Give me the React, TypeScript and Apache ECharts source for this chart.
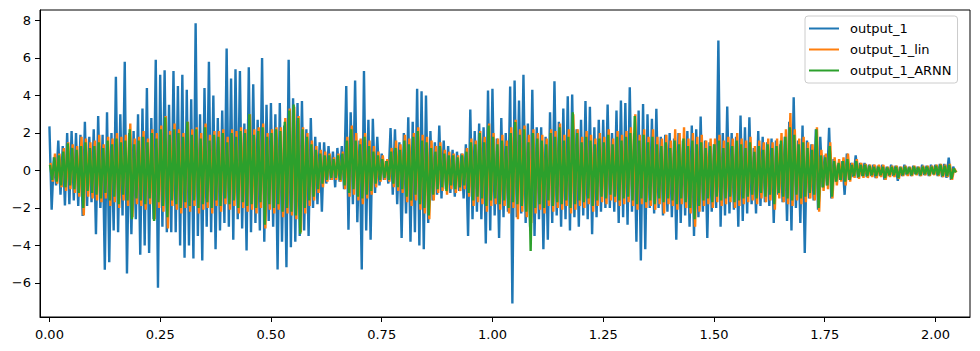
import React, { useEffect, useRef } from "react";
import * as echarts from "echarts";

// sample spacing of the signal (x units); each bin holds one upper and one lower excursion
const STEP = 0.01;
const HALF = 0.005;

const seriesNames = ["output_1", "output_1_lin", "output_1_ARNN"];
const colors = ["#1f77b4", "#ff7f0e", "#2ca02c"];
const phase = [0, 0.0025, 0.00125];

const xTicks = [0, 0.25, 0.5, 0.75, 1.0, 1.25, 1.5, 1.75, 2.0];
const yTicks = [-6, -4, -2, 0, 2, 4, 6, 8];

// output_1 (blue): upper / lower excursions per bin
const blueUp = [
  2.35, 0.7, 1.6, 1.3, 2.0, 2.1, 2.0, 1.9, 2.6, 1.8,
  2.2, 2.9, 1.9, 3.1, 2.0, 5.0, 3.0, 5.8, 2.0, 2.1,
  3.0, 3.3, 4.4, 2.8, 5.9, 5.1, 5.35, 3.5, 5.3, 4.5,
  5.1, 4.3, 3.8, 7.85, 3.0, 4.4, 5.8, 4.0, 2.8, 3.2,
  6.5, 4.9, 5.4, 5.3, 2.5, 5.5, 4.6, 2.7, 6.0, 3.5,
  3.6, 3.0, 3.6, 2.4, 5.9, 3.85, 3.6, 3.7, 2.2, 2.8,
  1.8, 1.5, 1.5, 1.3, 1.0, 1.2, 1.3, 4.5, 3.1, 4.8,
  1.6, 5.3, 2.7, 2.75, 1.8, 0.9, 0.5, 2.26, 2.2, 1.5,
  2.0, 2.84, 2.6, 4.36, 4.23, 4.0, 2.1, 1.5, 2.4, 1.6,
  1.3, 1.1, 1.0, 0.9, 1.4, 3.25, 2.1, 2.5, 2.3, 4.27,
  4.36, 1.7, 2.8, 2.0, 4.48, 4.8, 3.73, 5.1, 2.5, 4.3,
  2.3, 2.3, 1.8, 3.1, 4.76, 2.6, 3.3, 3.96, 4.05, 2.2,
  2.7, 3.7, 3.4, 2.3, 2.7, 2.7, 3.52, 2.0, 3.2, 3.73,
  3.6, 4.44, 2.0, 3.2, 3.55, 3.0, 2.76, 3.29, 1.8, 1.9,
  2.0, 1.7, 2.0, 1.6, 2.1, 2.4, 2.2, 2.88, 1.6, 1.5,
  1.4, 6.93, 2.0, 3.41, 2.0, 1.8, 2.93, 2.3, 2.84, 1.2,
  2.1, 1.8, 1.5, 1.7, 1.6, 1.4, 1.8, 2.6, 3.91, 1.6,
  2.4, 1.6, 1.4, 2.2, 1.8, 0.8, 2.28, 0.6, 0.3, 0.5,
  0.9, 0.4, 0.8, 0.4, 0.4, 0.3, 0.3, 0.25, 0.3, 0.2,
  0.3, 0.25, 0.2, 0.3, 0.2, 0.25, 0.2, 0.3, 0.25, 0.3,
  0.3, 0.35, 0.35, 0.68, 0.2,
];
const blueDown = [
  -2.1, -0.8, -1.3, -1.87, -1.8, -1.6, -1.9, -2.43, -1.9, -1.7,
  -3.4, -2.0, -5.3, -4.9, -3.2, -3.3, -2.4, -5.5, -3.4, -2.6,
  -4.5, -4.0, -4.4, -2.6, -6.26, -3.0, -3.3, -3.3, -3.3, -4.0,
  -4.66, -4.0, -4.7, -3.5, -4.8, -3.0, -3.3, -4.2, -3.2, -2.8,
  -3.0, -3.7, -2.6, -3.1, -4.27, -3.3, -2.8, -3.2, -3.8, -2.7,
  -3.0, -5.28, -3.8, -5.16, -4.1, -3.8, -3.5, -3.2, -3.5, -2.0,
  -1.8, -2.2, -0.7, -0.5, -0.9, -0.6, -1.0, -3.16, -1.8, -2.76,
  -5.28, -3.2, -3.7, -1.2, -0.8, -0.5, -0.7, -1.3, -1.8, -3.6,
  -2.3, -3.8, -3.3, -4.0, -4.2, -2.8, -1.6, -1.3, -1.5, -1.0,
  -1.2, -1.4, -1.1, -1.5, -3.5, -2.6, -2.2, -2.6, -3.9, -3.2,
  -2.4, -3.6, -2.5, -2.2, -7.1, -2.5, -2.3, -2.8, -3.0, -3.5,
  -2.6, -4.2, -3.7, -2.8, -2.4, -3.0, -2.6, -3.2, -2.5, -3.0,
  -2.4, -2.6, -3.4, -2.5, -2.2, -2.0, -2.0, -2.2, -2.8, -2.5,
  -2.9, -2.2, -3.8, -4.8, -4.2, -2.0, -2.3, -2.0, -2.4, -2.2,
  -2.5, -3.7, -2.8, -2.4, -3.0, -3.5, -2.5, -2.2, -3.6, -2.2,
  -2.0, -3.0, -2.4, -2.3, -2.1, -3.0, -2.7, -2.3, -1.8, -2.3,
  -1.9, -1.7, -1.9, -2.8, -1.3, -1.7, -2.7, -3.2, -2.0, -2.8,
  -4.4, -1.5, -1.6, -2.1, -0.9, -0.8, -1.5, -0.6, -0.5, -1.3,
  -0.5, -0.35, -0.4, -0.3, -0.35, -0.3, -0.4, -0.3, -0.5, -0.3,
  -0.3, -0.55, -0.3, -0.25, -0.3, -0.2, -0.3, -0.25, -0.3, -0.2,
  -0.3, -0.35, -0.4, -0.5, -0.1,
];

// output_1_lin (orange)
const orangeUp = [
  0.4, 0.9, 0.9, 1.2, 1.5, 1.4, 1.3, 1.8, 1.7, 1.5,
  1.6, 1.9, 1.4, 1.8, 1.7, 2.0, 1.8, 1.9, 2.5, 1.7,
  1.8, 2.1, 1.7, 2.2, 2.0, 2.4, 2.9, 2.1, 2.5, 2.2,
  2.0, 2.6, 2.2, 2.3, 2.0, 2.5, 1.9, 2.1, 2.1, 2.2,
  1.8, 2.2, 2.1, 2.3, 2.2, 3.0, 2.2, 2.3, 2.5, 2.0,
  2.2, 2.3, 2.3, 2.8, 3.3, 3.4, 2.9, 2.3, 2.0, 1.6,
  1.3, 1.1, 1.0, 0.9, 0.7, 0.9, 1.0, 1.8, 2.4, 2.0,
  1.7, 2.0, 1.6, 1.3, 1.0, 0.8, 0.6, 1.2, 1.6, 1.4,
  1.9, 1.7, 2.0, 2.3, 1.9, 1.8, 1.6, 1.3, 1.5, 1.1,
  1.0, 0.9, 0.8, 0.9, 1.2, 1.7, 1.6, 2.1, 1.8, 2.5,
  2.0, 1.7, 1.9, 1.6, 2.3, 2.7, 2.2, 2.4, 1.9, 2.2,
  2.0, 1.9, 1.7, 2.2, 2.1, 2.5, 1.9, 2.2, 3.0, 2.2,
  1.8, 2.1, 1.9, 1.7, 2.0, 1.8, 2.2, 1.7, 2.1, 1.9,
  2.1, 2.3, 3.0, 1.9, 2.2, 1.8, 2.2, 1.8, 1.7, 1.9,
  1.6, 2.2, 2.0, 2.3, 1.7, 2.0, 1.8, 1.9, 1.6, 1.7,
  1.7, 1.9, 1.6, 1.8, 1.7, 2.0, 1.7, 1.6, 1.8, 1.3,
  1.6, 1.5, 1.7, 1.5, 1.7, 2.0, 2.2, 3.06, 2.2, 1.7,
  1.8, 1.5, 1.4, 2.3, 1.1, 0.9, 1.5, 0.7, 0.6, 0.7,
  0.9, 0.4, 0.6, 0.4, 0.35, 0.3, 0.3, 0.3, 0.3, 0.2,
  0.25, 0.25, 0.2, 0.25, 0.2, 0.25, 0.2, 0.25, 0.25, 0.25,
  0.3, 0.35, 0.3, 0.35, 0.1,
];
const orangeDown = [
  -0.6, -0.7, -0.9, -1.1, -1.0, -1.2, -1.4, -2.4, -1.4, -1.5,
  -1.6, -1.7, -1.5, -1.9, -1.7, -2.0, -1.6, -1.9, -2.5, -1.8,
  -1.9, -2.1, -1.8, -2.6, -2.0, -2.2, -3.1, -1.9, -2.1, -2.3,
  -2.0, -2.2, -1.9, -2.3, -2.1, -2.0, -2.3, -1.9, -2.2, -1.8,
  -2.1, -1.9, -2.3, -2.0, -2.2, -2.1, -2.3, -2.0, -3.1, -2.1,
  -2.3, -2.1, -2.5, -2.3, -2.4, -2.6, -3.3, -2.3, -1.9, -1.6,
  -1.2, -0.9, -0.6, -0.5, -0.5, -0.6, -1.0, -1.4, -1.3, -1.6,
  -1.8, -1.5, -1.3, -0.9, -0.6, -0.5, -0.6, -0.9, -1.1, -1.2,
  -1.7, -1.9, -1.6, -2.1, -2.3, -2.6, -1.6, -1.2, -1.1, -1.3,
  -1.0, -1.2, -1.1, -1.0, -1.4, -1.9, -1.7, -1.8, -2.2, -1.9,
  -1.8, -2.1, -1.9, -2.3, -2.0, -2.6, -2.2, -2.5, -2.8, -2.3,
  -2.1, -2.3, -1.9, -2.2, -2.0, -2.1, -1.9, -2.3, -2.1, -1.9,
  -2.0, -1.8, -2.2, -1.9, -1.7, -1.8, -1.6, -1.7, -1.9, -1.8,
  -1.7, -1.9, -2.1, -1.8, -2.0, -1.9, -2.1, -1.8, -2.3, -1.8,
  -1.9, -2.1, -1.8, -2.0, -2.3, -3.0, -2.2, -1.9, -1.8, -2.0,
  -1.7, -1.9, -1.8, -1.7, -2.0, -1.9, -1.8, -1.7, -1.6, -1.8,
  -1.5, -1.7, -1.6, -2.1, -1.5, -1.7, -1.8, -1.9, -1.6, -1.8,
  -1.7, -1.5, -1.6, -2.2, -1.1, -1.0, -1.5, -0.8, -0.6, -0.8,
  -0.6, -0.4, -0.45, -0.4, -0.4, -0.35, -0.4, -0.35, -0.5, -0.35,
  -0.35, -0.45, -0.3, -0.3, -0.3, -0.25, -0.3, -0.25, -0.3, -0.25,
  -0.3, -0.35, -0.35, -0.5, -0.1,
];

// output_1_ARNN (green)
const greenUp = [
  0.3, 0.7, 0.8, 1.0, 1.45, 1.2, 1.1, 1.3, 1.5, 1.2,
  1.3, 1.5, 1.2, 1.6, 1.4, 1.7, 1.5, 1.6, 2.2, 1.4,
  1.6, 1.8, 1.5, 2.0, 1.7, 2.2, 2.84, 1.9, 2.2, 2.0,
  1.8, 2.6, 1.9, 2.2, 1.7, 2.3, 1.6, 1.9, 1.8, 2.0,
  1.5, 2.0, 1.8, 2.1, 2.0, 3.0, 1.9, 2.1, 2.3, 1.8,
  2.0, 2.2, 2.1, 2.6, 3.2, 3.52, 2.8, 2.2, 1.8, 1.4,
  1.1, 0.9, 0.8, 0.8, 0.6, 0.8, 0.9, 1.6, 2.2, 1.6,
  1.4, 1.8, 1.3, 1.0, 0.8, 0.6, 0.5, 1.0, 1.2, 1.1,
  1.6, 1.4, 1.8, 2.1, 1.6, 1.5, 1.2, 1.0, 1.3, 0.9,
  0.8, 0.8, 0.7, 0.8, 1.0, 1.5, 1.4, 2.0, 1.5, 2.4,
  1.8, 1.4, 1.6, 1.3, 2.0, 2.58, 1.9, 2.2, 1.5, 2.0,
  1.7, 1.6, 1.4, 2.0, 1.8, 2.3, 1.6, 1.8, 3.1, 2.0,
  1.5, 1.8, 1.6, 1.4, 1.7, 1.5, 1.9, 1.4, 1.8, 1.6,
  1.8, 2.0, 2.9, 1.6, 1.9, 1.5, 1.8, 1.4, 1.3, 1.5,
  1.2, 1.6, 1.4, 1.7, 1.3, 1.6, 1.4, 1.5, 1.2, 1.3,
  1.4, 1.6, 1.2, 1.5, 1.3, 1.6, 1.4, 1.2, 1.5, 1.0,
  1.3, 1.1, 1.4, 1.2, 1.3, 1.6, 1.8, 2.3, 1.9, 1.4,
  1.5, 1.2, 1.1, 2.2, 0.8, 0.7, 1.3, 0.5, 0.4, 0.5,
  0.6, 0.3, 0.5, 0.3, 0.3, 0.25, 0.2, 0.2, 0.2, 0.15,
  0.2, 0.2, 0.15, 0.2, 0.15, 0.2, 0.15, 0.2, 0.2, 0.2,
  0.25, 0.3, 0.25, 0.3, 0.1,
];
const greenDown = [
  -0.5, -0.6, -0.8, -0.9, -0.8, -1.0, -1.2, -2.0, -1.1, -1.2,
  -1.3, -1.5, -1.2, -1.6, -1.4, -1.8, -1.3, -1.6, -2.6, -1.5,
  -1.6, -1.8, -1.5, -2.7, -1.7, -1.9, -2.5, -1.6, -1.8, -2.0,
  -1.7, -1.9, -1.6, -2.0, -1.8, -1.7, -2.0, -1.6, -1.9, -1.5,
  -1.8, -1.6, -2.0, -1.7, -1.9, -1.8, -2.0, -1.7, -2.9, -1.8,
  -2.0, -1.8, -2.2, -2.0, -2.2, -2.4, -3.38, -2.0, -1.6, -1.4,
  -1.0, -0.7, -0.5, -0.4, -0.4, -0.5, -0.8, -1.2, -1.0, -1.4,
  -1.5, -1.3, -1.1, -0.7, -0.5, -0.4, -0.5, -0.7, -0.9, -1.0,
  -1.4, -1.6, -1.3, -1.8, -2.0, -2.4, -1.3, -1.0, -0.9, -1.1,
  -0.8, -1.0, -0.9, -0.8, -1.2, -1.6, -1.4, -1.5, -1.9, -1.6,
  -1.5, -1.8, -1.6, -2.0, -1.7, -1.8, -1.9, -2.2, -4.3, -2.0,
  -1.8, -2.0, -1.6, -1.9, -1.7, -1.8, -1.6, -2.0, -1.8, -1.6,
  -1.7, -1.5, -1.9, -1.6, -1.4, -1.5, -1.3, -1.4, -1.6, -1.5,
  -1.4, -1.6, -1.8, -1.5, -1.7, -1.6, -1.8, -1.5, -1.7, -1.5,
  -1.6, -1.8, -1.5, -1.7, -2.0, -2.6, -1.9, -1.6, -1.5, -1.7,
  -1.4, -1.6, -1.5, -1.4, -1.7, -1.6, -1.5, -1.4, -1.3, -1.5,
  -1.2, -1.4, -1.3, -1.8, -1.2, -1.4, -1.5, -1.6, -1.3, -1.5,
  -1.4, -1.2, -1.3, -2.0, -0.9, -0.8, -1.4, -0.6, -0.5, -0.6,
  -0.5, -0.3, -0.35, -0.3, -0.3, -0.25, -0.3, -0.25, -0.4, -0.25,
  -0.25, -0.4, -0.25, -0.2, -0.25, -0.2, -0.25, -0.2, -0.25, -0.2,
  -0.25, -0.3, -0.3, -0.45, -0.1,
];

function zigzag(up: number[], down: number[], offset: number): number[][] {
  const out: number[][] = [];
  for (let i = 0; i < up.length; i++) {
    out.push([i * STEP + offset, up[i]]);
    out.push([i * STEP + HALF + offset, down[i]]);
  }
  return out;
}

const FONT = "DejaVu Sans";

export default function App() {
  const ref = useRef<HTMLDivElement>(null);
  useEffect(() => {
    if (!ref.current) return;
    const chart = echarts.init(ref.current, null, { renderer: "svg" });
    const datasets = [
      zigzag(blueUp, blueDown, phase[0]),
      zigzag(orangeUp, orangeDown, phase[1]),
      zigzag(greenUp, greenDown, phase[2]),
    ];
    chart.setOption({
      animation: false,
      backgroundColor: "#ffffff",
      textStyle: { fontFamily: FONT },
      grid: {
        left: 40,
        right: 10,
        top: 10,
        bottom: 34,
        containLabel: false,
        outerBoundsMode: "none",
        show: true,
        borderColor: "#000000",
        borderWidth: 1,
        backgroundColor: "transparent",
      },
      legend: {
        orient: "vertical",
        left: 805,
        top: 16,
        padding: [5, 6, 5, 4],
        itemWidth: 30,
        itemHeight: 2,
        itemGap: 6,
        icon: "rect",
        borderColor: "#cccccc",
        borderWidth: 1,
        borderRadius: 3,
        backgroundColor: "rgba(255,255,255,0.8)",
        textStyle: {
          fontFamily: FONT,
          fontSize: 13,
          color: "#000000",
          lineHeight: 15,
          padding: [0, 0, 0, 6],
        },
        data: seriesNames,
      },
      xAxis: {
        type: "value",
        min: -0.0213,
        max: 2.078,
        splitLine: { show: false },
        axisLine: { show: true, onZero: false, lineStyle: { color: "#000000", width: 1 } },
        axisTick: {
          show: true,
          length: 5,
          lineStyle: { color: "#000000", width: 1 },
          customValues: xTicks,
        },
        axisLabel: {
          customValues: xTicks,
          fontFamily: FONT,
          fontSize: 13,
          color: "#000000",
          margin: 11,
          formatter: (v: number) => v.toFixed(2),
        },
      },
      yAxis: {
        type: "value",
        min: -7.82,
        max: 8.56,
        splitLine: { show: false },
        axisLine: { show: true, onZero: false, lineStyle: { color: "#000000", width: 1 } },
        axisTick: {
          show: true,
          length: 5,
          lineStyle: { color: "#000000", width: 1 },
          customValues: yTicks,
        },
        axisLabel: {
          customValues: yTicks,
          fontFamily: FONT,
          fontSize: 13,
          color: "#000000",
          margin: 9,
          formatter: (v: number) => (v < 0 ? "\u2212" + Math.abs(v) : String(v)),
        },
      },
      series: seriesNames.map((name, k) => ({
        name,
        type: "line",
        data: datasets[k],
        showSymbol: false,
        symbol: "none",
        silent: true,
        color: colors[k],
        lineStyle: { width: 2.4, color: colors[k], join: "miter", miterLimit: 2 },
      })),
    });
    return () => chart.dispose();
  }, []);
  return (
    <div
      ref={ref}
      style={{ position: "fixed", left: 0, top: 0, width: 980, height: 351 }}
    />
  );
}
